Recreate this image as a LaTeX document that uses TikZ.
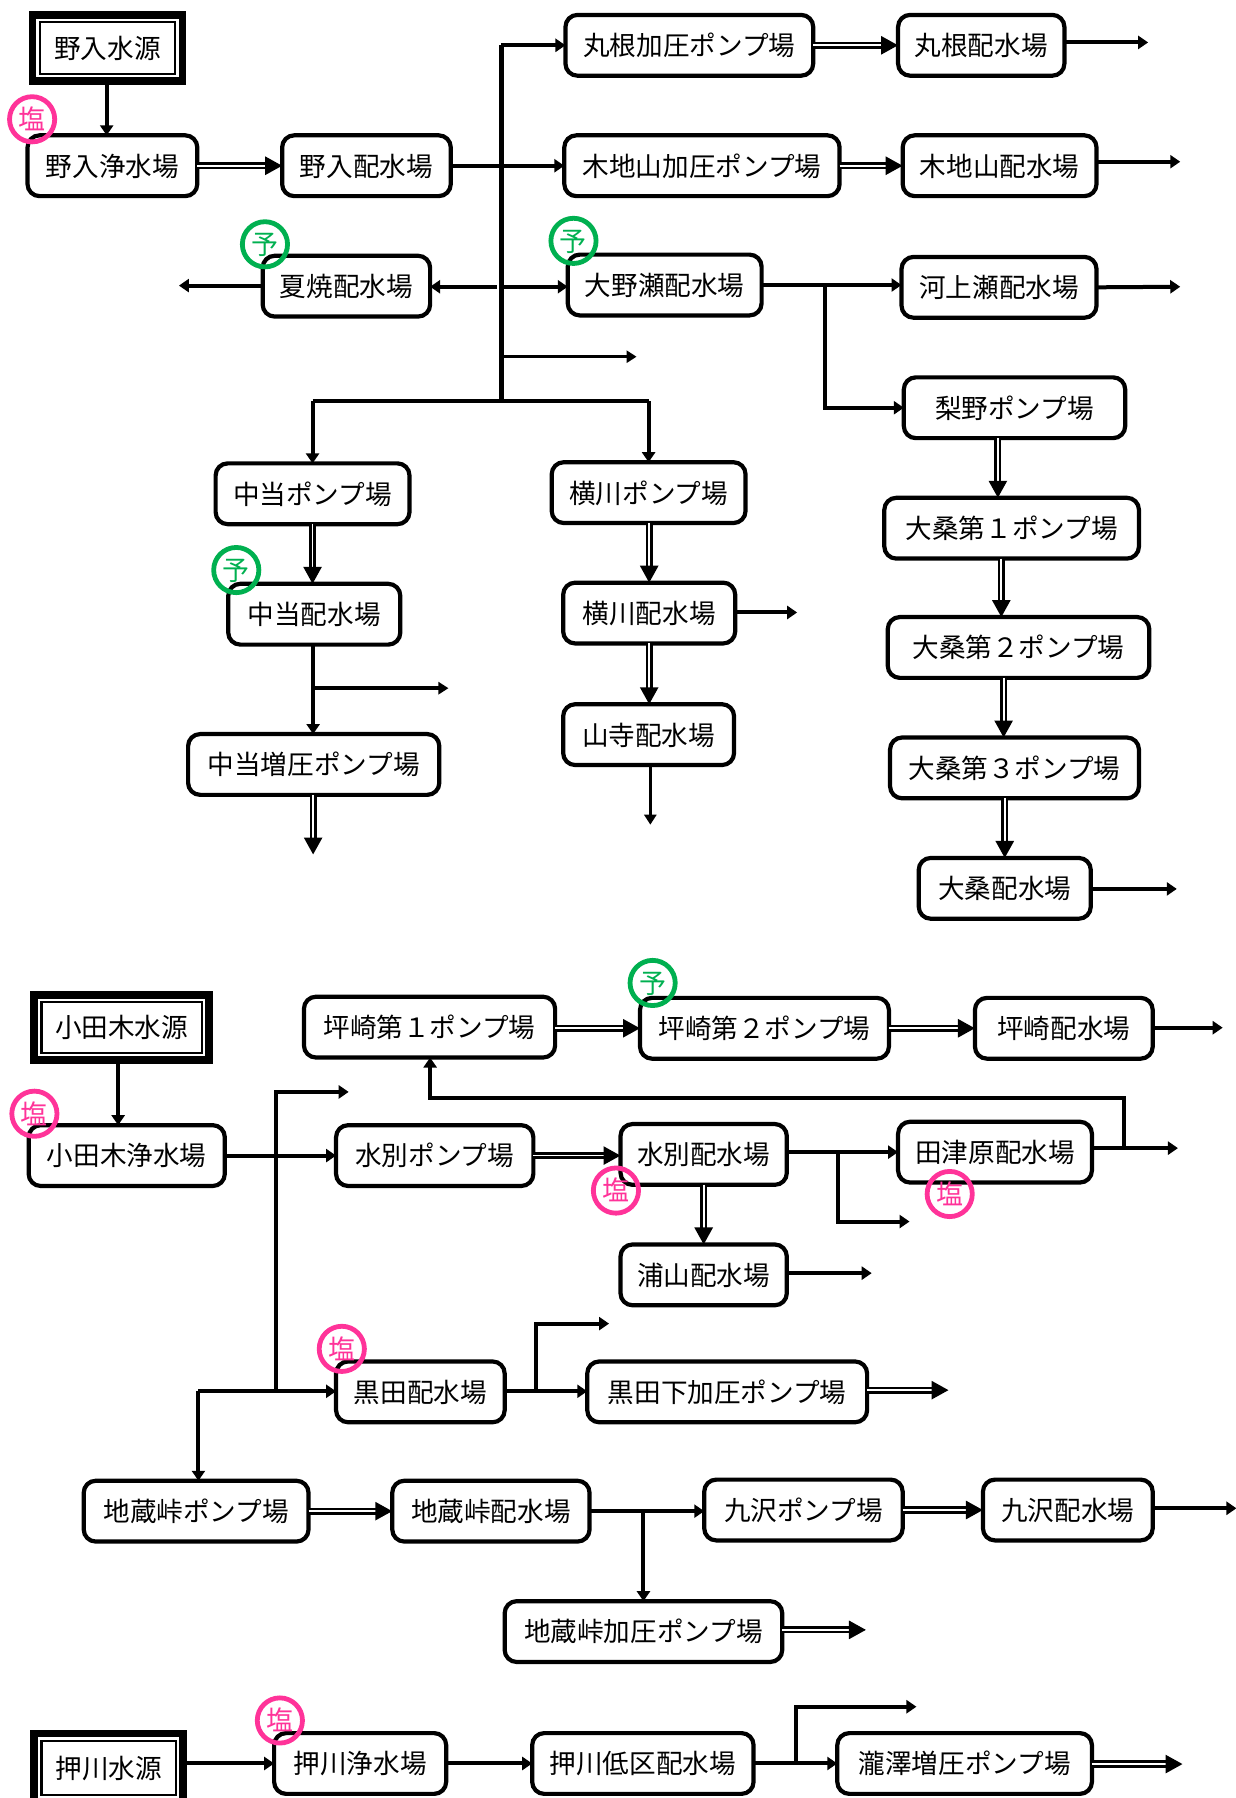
\documentclass[tikz,border=0pt]{standalone}
\usepackage{fontspec}
\setmainfont{Noto Sans CJK JP}
\usetikzlibrary{arrows.meta,shapes.geometric,calc}
\definecolor{pnk}{HTML}{FF3399}
\definecolor{grn}{HTML}{00B050}
\newcommand{\stnbox}[6]{\node[stn,minimum width={(#4-#2)*0.5735pt},minimum height={(#5-#3)*0.5735pt}] (#1) at ({(#2+#4)/2},{(#3+#5)/2}) {#6};}
\newcommand{\srcbox}[6]{%
\node[srcout,minimum width={(#4-#2)*0.5735pt},minimum height={(#5-#3)*0.5735pt}] (#1) at ({(#2+#4)/2},{(#3+#5)/2}) {};
\node[srcgap,minimum width={(#4-#2-13.2)*0.5735pt},minimum height={(#5-#3-13.2)*0.5735pt}] (#1g) at (#1.center) {};
\node[srcin,minimum width={(#4-#2-19.4)*0.5735pt},minimum height={(#5-#3-19.4)*0.5735pt}] (#1i) at (#1.center) {#6};}
\tikzset{
 stn/.style={draw=black,fill=white,line width=2.1pt,rounded corners=6pt,inner sep=0pt,outer sep=0pt,text height=12.4pt,text depth=2pt,font=\fontsize{13.3pt}{15pt}\selectfont},
 srcout/.style={fill=black,inner sep=0pt,outer sep=0pt},
 srcgap/.style={fill=white,inner sep=0pt,outer sep=0pt},
 srcin/.style={draw=black,fill=white,line width=1.1pt,inner sep=0pt,outer sep=0pt,text height=12.4pt,text depth=2pt,font=\fontsize{13.3pt}{15pt}\selectfont},
 arr/.style={line width=2pt,-{Triangle[length=5pt,width=6.5pt]}},
 thn/.style={line width=1.7pt,-{Triangle[length=5pt,width=6pt]}},
 trk/.style={line width=2.5pt},
 lin/.style={line width=2pt},
 dbl/.style={double=white,double distance=0.9pt,line width=1.35pt,-{Triangle[length=8.5pt,width=9pt]}},
 badge/.style={ellipse,line width=2.4pt,inner sep=0pt,minimum width=22.6pt,minimum height=22.6pt,text height=12.4pt,text depth=2pt,font=\fontsize{13.5pt}{15pt}\selectfont},
 shio/.style={badge,draw=pnk,text=pnk},
 yo/.style={badge,draw=grn,text=grn},
}
\begin{document}
\begin{tikzpicture}[x=0.5735pt,y=-0.5735pt]
\useasboundingbox (0,0) rectangle (1077.6,1567.6);
% sources
\srcbox{nsrc}{25.2}{9.6}{162.4}{74}{野入水源}
\srcbox{osrc}{26.5}{864}{185.5}{927.5}{小田木水源}
\srcbox{ksrc}{26.5}{1508}{163}{1575}{押川水源}
% stations
\stnbox{njo}{24}{118}{172}{171}{野入浄水場}
\stnbox{nha}{246}{118}{393}{171}{野入配水場}
\stnbox{mka}{493}{13}{709}{66}{丸根加圧ポンプ場}
\stnbox{mha}{783}{13}{928}{66}{丸根配水場}
\stnbox{kka}{492}{118}{732}{171}{木地山加圧ポンプ場}
\stnbox{kha}{787}{118}{956}{171}{木地山配水場}
\stnbox{nat}{229}{223}{375}{276}{夏焼配水場}
\stnbox{ono}{495}{222}{664}{275}{大野瀬配水場}
\stnbox{kaw}{786}{224}{956}{277}{河上瀬配水場}
\stnbox{nas}{788}{329}{981}{382}{梨野ポンプ場}
\stnbox{npu}{188}{404}{357}{457}{中当ポンプ場}
\stnbox{ypu}{481}{403}{650}{456}{横川ポンプ場}
\stnbox{oa}{771}{434}{993}{487}{大桑第１ポンプ場}
\stnbox{nah}{199}{509}{349}{562}{中当配水場}
\stnbox{yha}{491}{508}{641}{561}{横川配水場}
\stnbox{ob}{774}{538}{1002}{591}{大桑第２ポンプ場}
\stnbox{yam}{491}{614}{640}{667}{山寺配水場}
\stnbox{nzo}{164}{640}{383}{693}{中当増圧ポンプ場}
\stnbox{oc}{776}{643}{993}{696}{大桑第３ポンプ場}
\stnbox{oha}{801}{748}{951}{801}{大桑配水場}
\stnbox{ta}{265}{869}{484}{922}{坪崎第１ポンプ場}
\stnbox{tb}{558}{870}{775}{923}{坪崎第２ポンプ場}
\stnbox{tha}{850}{870}{1005}{923}{坪崎配水場}
\stnbox{ojo}{25}{981}{196}{1034}{小田木浄水場}
\stnbox{mzp}{293}{981}{465}{1034}{水別ポンプ場}
\stnbox{mzh}{541}{980}{686}{1033}{水別配水場}
\stnbox{tzu}{783}{978}{952}{1031}{田津原配水場}
\stnbox{ura}{541}{1085}{686}{1138}{浦山配水場}
\stnbox{kur}{293}{1187}{440}{1240}{黒田配水場}
\stnbox{kus}{512}{1187}{756}{1240}{黒田下加圧ポンプ場}
\stnbox{jip}{73}{1291}{269}{1344}{地蔵峠ポンプ場}
\stnbox{jih}{342}{1291}{514}{1344}{地蔵峠配水場}
\stnbox{kyp}{614}{1290}{787}{1343}{九沢ポンプ場}
\stnbox{kyh}{857}{1290}{1005}{1343}{九沢配水場}
\stnbox{jik}{440}{1396}{682}{1449}{地蔵峠加圧ポンプ場}
\stnbox{kjo}{239}{1511}{389}{1564}{押川浄水場}
\stnbox{kte}{464}{1511}{657}{1564}{押川低区配水場}
\stnbox{tak}{730}{1511}{952}{1564}{瀧澤増圧ポンプ場}
% free ends and junctions
\coordinate (f1) at (1001,37);
\coordinate (f2) at (1029,141);
\coordinate (f3) at (156,249);
\coordinate (f4) at (1029,250);
\coordinate (f5) at (555,311);
\coordinate (f6) at (391,600);
\coordinate (f7) at (273,745);
\coordinate (f8) at (695,534);
\coordinate (f9) at (567,719);
\coordinate (f10) at (1026,775);
\coordinate (f11) at (304,952);
\coordinate (f12) at (793,1065);
\coordinate (f13) at (760,1110);
\coordinate (f14) at (1027,1001);
\coordinate (f15) at (1066,896);
\coordinate (f16) at (531,1154);
\coordinate (f17) at (827,1212);
\coordinate (f18) at (1078,1315);
\coordinate (f19) at (755,1421);
\coordinate (f20) at (799,1488);
\coordinate (f21) at (1031,1538);
\coordinate (tr) at (437,350);
\coordinate (gp) at (433.5,250);
\coordinate (j1) at (719,250);
\coordinate (j2) at (273,600);
\coordinate (j3) at (241,1213);
\coordinate (j4) at (731,1005);
\coordinate (j5) at (980,1001);
\coordinate (j6) at (375,957);
\coordinate (j7) at (173,1213);
\coordinate (j8) at (467,1213);
\coordinate (j9) at (561,1317);
\coordinate (j10) at (694,1536);
\coordinate (sa) at (93,74);
\coordinate (sb) at (103,927.5);
\coordinate (da) at (870,382);
\coordinate (db) at (873,487);
\coordinate (dc) at (875,591);
\coordinate (dd) at (876,696);
% first network
\draw[arr] (sa) -- (sa |- njo.north);
\draw[dbl] (njo.east) -- (nha.west);
\draw[arr] (nha.east) -- (kka.west);
\draw[trk] (tr) -- (tr |- mka.west);
\draw[arr] (tr |- mka.west) -- (mka.west);
\draw[dbl] (mka.east) -- (mha.west);
\draw[arr] (mha.east |- f1) -- (f1);
\draw[dbl] (kka.east) -- (kha.west);
\draw[arr] (kha.east |- f2) -- (f2);
\draw[arr] (nat.west |- f3) -- (f3);
\draw[arr] (gp) -- (nat.east |- gp);
\draw[arr] (tr |- gp) -- (ono.west |- gp);
\draw[arr] (ono.east) -- (kaw.west |- ono.east);
\draw[arr] (j1) |- (nas.west);
\draw[arr] (kaw.east) -- (f4);
\draw[thn] (tr |- f5) -- (f5);
\draw[lin] (npu.north |- tr) -- (ypu.north |- tr);
\draw[arr] (npu.north |- tr) -- (npu.north);
\draw[arr] (ypu.north |- tr) -- (ypu.north);
\draw[dbl] (npu.south) -- (npu.south |- nah.north);
\draw[arr] (j2 |- nah.south) -- (j2 |- nzo.north);
\draw[thn] (j2) -- (f6);
\draw[dbl] (f7 |- nzo.south) -- (f7);
\draw[dbl] (yha.north |- ypu.south) -- (yha.north);
\draw[arr] (yha.east |- f8) -- (f8);
\draw[dbl] (yha.south) -- (yha.south |- yam.north);
\draw[thn] (f9 |- yam.south) -- (f9);
\draw[dbl] (da) -- (da |- oa.north);
\draw[dbl] (db) -- (db |- ob.north);
\draw[dbl] (dc) -- (dc |- oc.north);
\draw[dbl] (dd) -- (dd |- oha.north);
\draw[arr] (oha.east |- f10) -- (f10);
% second network
\draw[arr] (sb) -- (sb |- ojo.north);
\draw[arr] (ojo.east) -- (mzp.west);
\draw[arr] (j3) |- (f11);
\draw[dbl] (mzp.east) -- (mzh.west |- mzp.east);
\draw[arr] (mzh.east |- tzu.west) -- (tzu.west);
\draw[arr] (j4) |- (f12);
\draw[dbl] (mzh.south) -- (ura.north);
\draw[arr] (ura.east |- f13) -- (f13);
\draw[arr] (tzu.east |- f14) -- (f14);
\draw[arr] (j5) |- (j6) -- (j6 |- ta.south);
\draw[dbl] (ta.east |- tb.west) -- (tb.west);
\draw[dbl] (tb.east) -- (tha.west);
\draw[arr] (tha.east |- f15) -- (f15);
\draw[lin] (j7) -- (j3);
\draw[arr] (j3) -- (kur.west |- j3);
\draw[arr] (j7) -- (j7 |- jip.north);
\draw[arr] (kur.east |- j3) -- (kus.west |- j3);
\draw[arr] (j8) |- (f16);
\draw[dbl] (kus.east |- f17) -- (f17);
\draw[dbl] (jip.east) -- (jih.west);
\draw[arr] (jih.east) -- (kyp.west |- jih.east);
\draw[dbl] (kyp.east) -- (kyh.west);
\draw[arr] (kyh.east |- f18) -- (f18);
\draw[arr] (j9) -- (jik.north);
\draw[dbl] (jik.east |- f19) -- (f19);
\draw[arr] (ksrc.east |- kjo.west) -- (kjo.west);
\draw[arr] (kjo.east) -- (kte.west);
\draw[arr] (kte.east) -- (tak.west);
\draw[arr] (j10) |- (f20);
\draw[dbl] (tak.east |- f21) -- (f21);
% badges
\node[shio] (b1) at (28,104) {塩};
\node[yo] (b2) at (231,213) {予};
\node[yo] (b3) at (500,210) {予};
\node[yo] (b4) at (206,497) {予};
\node[yo] (b5) at (569,857) {予};
\node[shio] (b6) at (30,971) {塩};
\node[shio] (b7) at (537,1038) {塩};
\node[shio] (b8) at (828,1041) {塩};
\node[shio] (b9) at (298,1176) {塩};
\node[shio] (b10) at (244,1500) {塩};
\end{tikzpicture}
\end{document}
